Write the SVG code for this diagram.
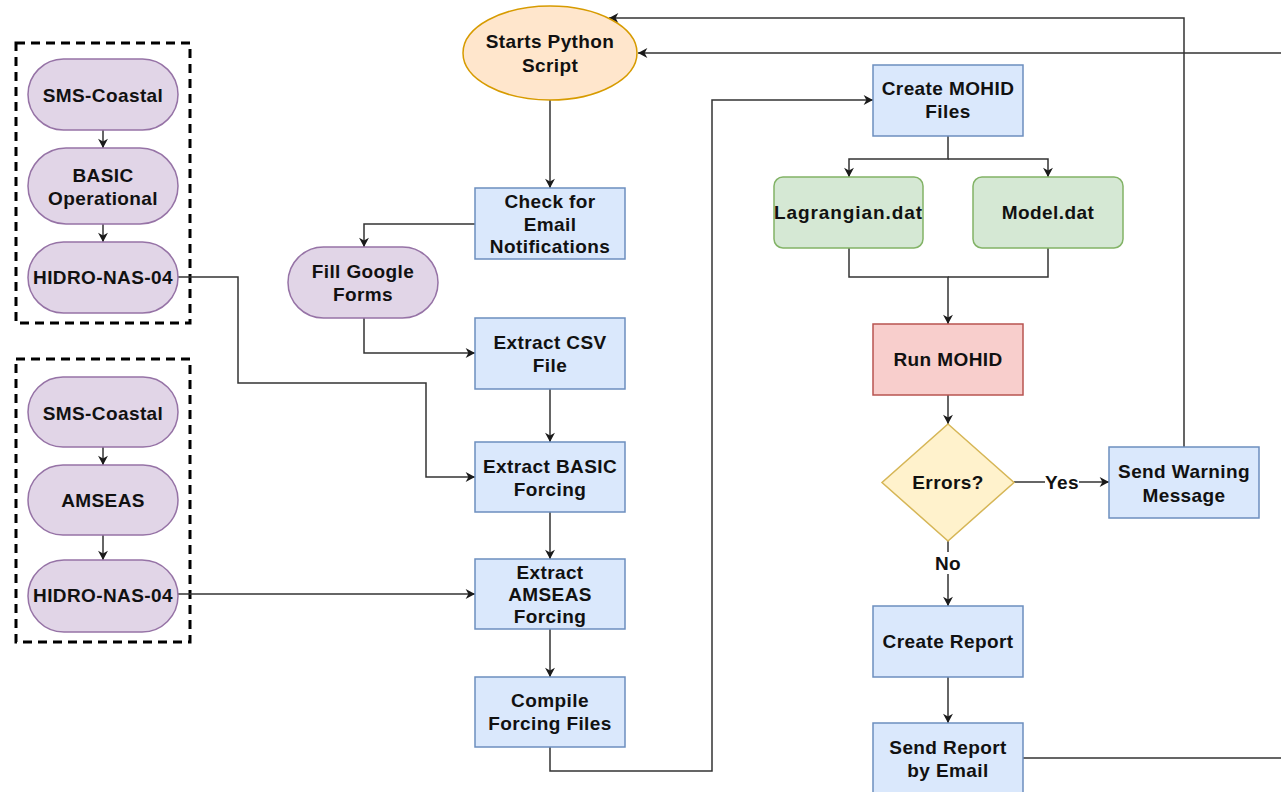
<svg xmlns="http://www.w3.org/2000/svg" width="1281" height="792" viewBox="0 0 1281 792">
<style>
text{font-family:"Liberation Sans",Arial,Helvetica,sans-serif;font-weight:bold;font-size:19px;letter-spacing:0.4px;fill:#111;text-anchor:middle}
.blue{fill:#dae8fc;stroke:#6c8ebf;stroke-width:1.5}
.purple{fill:#e1d5e7;stroke:#9673a6;stroke-width:1.5}
.orange{fill:#ffe6cc;stroke:#d79b00;stroke-width:1.5}
.green{fill:#d5e8d4;stroke:#82b366;stroke-width:1.5}
.red{fill:#f8cecc;stroke:#b85450;stroke-width:1.5}
.yellow{fill:#fff2cc;stroke:#d6b656;stroke-width:1.5}
.dash{fill:none;stroke:#000;stroke-width:3;stroke-dasharray:9 6}
.edge{fill:none;stroke:#333;stroke-width:1.5}
.arr{marker-end:url(#ah)}
</style>
<defs>
<marker id="ah" markerUnits="userSpaceOnUse" markerWidth="11" markerHeight="11" viewBox="0 0 10 10" refX="9" refY="5" orient="auto">
<path d="M0.5,0.5 L9,5 L0.5,9.5 L3,5 z" fill="#1a1a1a"/>
</marker>
</defs>
<rect width="1281" height="792" fill="#fff"/>

<g id="groups">
<rect id="group-basic" class="dash" x="16" y="43" width="174" height="280"/>
<rect id="group-amseas" class="dash" x="16" y="359" width="174" height="283"/>
</g>

<g id="connectors">
<path class="edge arr" d="M103,130 V148"/>
<path class="edge arr" d="M103,224 V242"/>
<path class="edge arr" d="M103,447 V465"/>
<path class="edge arr" d="M103,535 V560"/>
<path class="edge arr" d="M550,100 V188"/>
<path class="edge arr" d="M475,224 H364 V247"/>
<path class="edge arr" d="M364,318 V353 H475"/>
<path class="edge arr" d="M550,389 V442"/>
<path class="edge arr" d="M550,512 V559"/>
<path class="edge arr" d="M550,629 V677"/>
<path class="edge arr" d="M550,747 V771 H712 V100 H873"/>
<path class="edge arr" d="M178,277 H238 V383 H426 V477 H475"/>
<path class="edge arr" d="M178,594 H475"/>
<path class="edge arr" d="M948,136 V159 H849 V177"/>
<path class="edge arr" d="M948,159 H1048 V177"/>
<path class="edge arr" d="M849,248 V277 H948 V324"/>
<path class="edge" d="M1048,248 V277 H948"/>
<path class="edge arr" d="M948,395 V424"/>
<path class="edge arr" d="M1014,482 H1109"/>
<path class="edge arr" d="M948,541 V606"/>
<path class="edge arr" d="M948,677 V723"/>
<path class="edge arr" d="M1184,447 V18 H609"/>
<path class="edge arr" d="M1023,758 H1300 V53 H638"/>
<rect x="1045" y="471" width="34" height="22" fill="#fff"/>
<text x="1062" y="489">Yes</text>
<rect x="935" y="552" width="26" height="22" fill="#fff"/>
<text x="948" y="570">No</text>
</g>

<g id="sms-coastal-1"><rect class="purple" x="28" y="59" width="150" height="71" rx="35.5"/><text x="103" y="101.5">SMS-Coastal</text></g>
<g id="basic-operational"><rect class="purple" x="28" y="148" width="150" height="76" rx="38"/><text x="103" y="181.5">BASIC</text><text x="103" y="204.5">Operational</text></g>
<g id="hidro-nas-04-1"><rect class="purple" x="28" y="242" width="150" height="71" rx="35.5"/><text x="103" y="284">HIDRO-NAS-04</text></g>

<g id="sms-coastal-2"><rect class="purple" x="28" y="377" width="150" height="70" rx="35"/><text x="103" y="419.5">SMS-Coastal</text></g>
<g id="amseas"><rect class="purple" x="28" y="465" width="150" height="70" rx="35"/><text x="103" y="507">AMSEAS</text></g>
<g id="hidro-nas-04-2"><rect class="purple" x="28" y="560" width="150" height="72" rx="36"/><text x="103" y="602">HIDRO-NAS-04</text></g>

<g id="starts-python"><ellipse class="orange" cx="550" cy="53" rx="87" ry="47"/><text x="550" y="48">Starts Python</text><text x="550" y="72">Script</text></g>
<g id="check-email"><rect class="blue" x="475" y="188" width="150" height="71"/><text x="550" y="208">Check for</text><text x="550" y="230.5">Email</text><text x="550" y="253">Notifications</text></g>
<g id="fill-google"><rect class="purple" x="288" y="247" width="150" height="71" rx="35.5"/><text x="363" y="278">Fill Google</text><text x="363" y="301">Forms</text></g>
<g id="extract-csv"><rect class="blue" x="475" y="318" width="150" height="71"/><text x="550" y="349">Extract CSV</text><text x="550" y="372">File</text></g>
<g id="extract-basic"><rect class="blue" x="475" y="442" width="150" height="70"/><text x="550" y="472.5">Extract BASIC</text><text x="550" y="495.5">Forcing</text></g>
<g id="extract-amseas"><rect class="blue" x="475" y="559" width="150" height="70"/><text x="550" y="579">Extract</text><text x="550" y="601">AMSEAS</text><text x="550" y="623">Forcing</text></g>
<g id="compile"><rect class="blue" x="475" y="677" width="150" height="70"/><text x="550" y="707">Compile</text><text x="550" y="730">Forcing Files</text></g>

<g id="create-mohid"><rect class="blue" x="873" y="65" width="150" height="71"/><text x="948" y="95">Create MOHID</text><text x="948" y="118">Files</text></g>
<g id="lagrangian"><rect class="green" x="774" y="177" width="149" height="71" rx="9"/><text x="848.5" y="219" style="letter-spacing:0.9px">Lagrangian.dat</text></g>
<g id="model"><rect class="green" x="973" y="177" width="150" height="71" rx="9"/><text x="1048" y="219">Model.dat</text></g>
<g id="run-mohid"><rect class="red" x="873" y="324" width="150" height="71"/><text x="948" y="366">Run MOHID</text></g>
<g id="errors"><polygon class="yellow" points="948,424 1014,482.5 948,541 882,482.5"/><text x="948" y="489">Errors?</text></g>
<g id="send-warning"><rect class="blue" x="1109" y="447" width="150" height="71"/><text x="1184" y="477.5">Send Warning</text><text x="1184" y="501.5">Message</text></g>
<g id="create-report"><rect class="blue" x="873" y="606" width="150" height="71"/><text x="948" y="648">Create Report</text></g>
<g id="send-report"><rect class="blue" x="873" y="723" width="150" height="71"/><text x="948" y="754">Send Report</text><text x="948" y="777">by Email</text></g>
</svg>
